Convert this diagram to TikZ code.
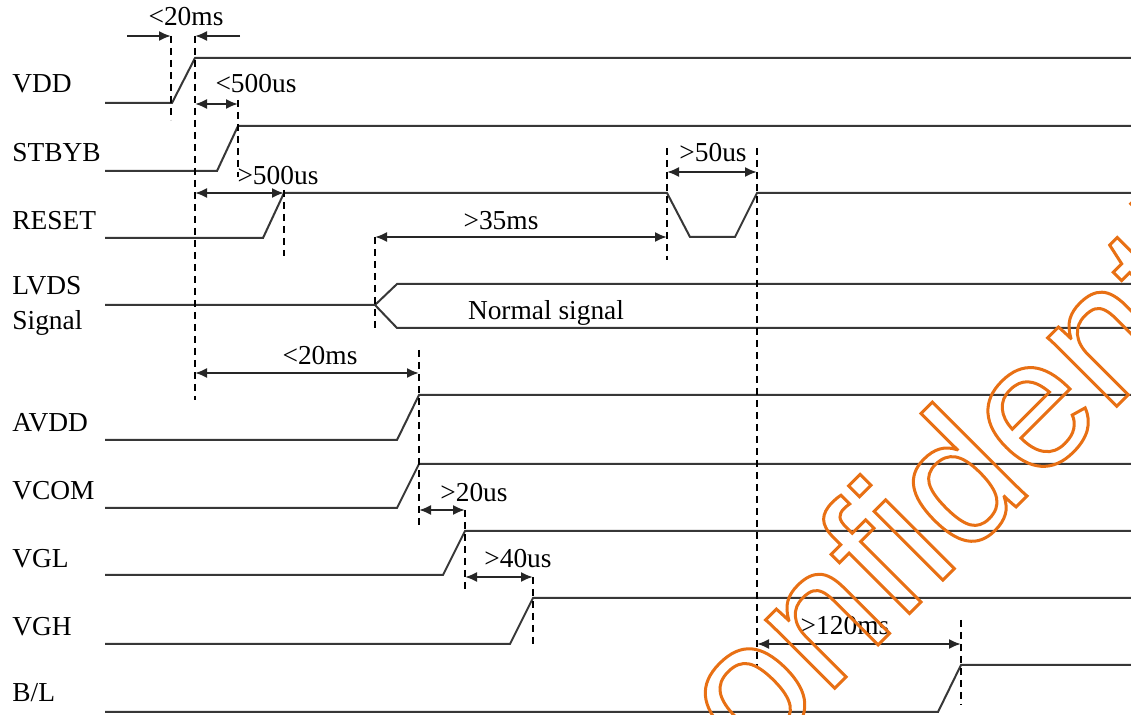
\documentclass[tikz,border=0pt]{standalone}
\usepackage{fontspec}
\setmainfont{Liberation Serif}
\newfontfamily\stampfont{Liberation Sans}
\usepackage{xcolor}
\usetikzlibrary{arrows.meta,positioning,calc}
\definecolor{wavegray}{RGB}{55,55,55}
\definecolor{stamporange}{RGB}{232,112,20}

\begin{document}
\begin{tikzpicture}[x=0.5pt,y=-0.5pt,>={Latex[length=6pt,width=5pt]},
  wave/.style={line width=1pt,wavegray},
  guide/.style={line width=0.7pt,dash pattern=on 3.5pt off 2.5pt,black},
  dim/.style={line width=1pt,black!85},
  sig/.style={anchor=base west,inner sep=0pt,font=\fontsize{13.7}{15}\selectfont},
  tmark/.style={anchor=base,inner sep=0pt,font=\fontsize{13.7}{15}\selectfont}]
  \useasboundingbox (0,0) rectangle (1131,715);

  % signal names
  \foreach \nm/\yy/\txt in {vdd/93/VDD,stbyb/162/STBYB,reset/230/RESET,lvds/295/LVDS,
      lvdsb/330/Signal,avdd/432/AVDD,vcom/500/VCOM,vgl/568/VGL,vgh/636/VGH,bl/702/{B/L}}
     \node[sig] (\nm) at (12,\yy) {\txt};

  % plain rising edges: low, high, edge start, edge end
  \foreach \lo/\hi/\xa/\xb in {103/58/172/195,171/126/217/238,440/395/397/419,
      508/464/397/419,575/531/443/465,644/598/510/533,712/665/938/961}
     \draw[wave] (105,\lo) -- (\xa,\lo) -- (\xb,\hi) -- (1131,\hi);
  \draw[wave] (105,238) -- (263,238) -- (284,193) -- (667,193) -- (690,237)
     -- (735,237) -- (757,193) -- (1131,193);
  \draw[wave] (105,305) -- (375,305) -- (397,284) -- (1131,284);
  \draw[wave] (375,305) -- (397,328) -- (1131,328);
  \node[tmark] (normal) at (546,320) {Normal signal};

  % dashed timing guides
  \foreach \n/\x/\ya/\yb in {g1/171/36/120,g2/195/36/400,g3/238/100/177,g4/284/190/256,
      g5/375/237/330,g6/419/350/528,g7/465/510/593,g8/533/577/645,
      g9/667/148/260,g10/757/148/667,g11/961/620/705}
     {\coordinate (\n) at (\x,\ya); \draw[guide] (\n) -- (\x,\yb);}

  % timing arrows
  \coordinate (vddl) at (127,36);
  \coordinate (vddr) at (240,36);
  \draw[dim,->] (vddl) -- (g1);
  \draw[dim,->] (vddr) -- (g2);
  \foreach \a/\b/\yy in {g2/g3/104,g2/g4/193,g9/g10/172,g5/g9/237,g2/g6/373,
      g6/g7/510,g7/g8/577,g10/g11/644}
     \draw[dim,<->] (\a |- 0,\yy) -- (\b |- 0,\yy);
  \foreach \nm/\x/\yy/\txt in {t1/186/26/{<20ms},t2/256/93/{<500us},t3/278/185/{>500us},
      t4/713/162/{>50us},t5/501/230/{>35ms},t6/320/365/{<20ms},t7/474/502/{>20us},
      t8/518/568/{>40us},t9/845/635/{>120ms}}
     \node[tmark] (\nm) at (\x,\yy) {\txt};

  % watermark
  \node[rotate=45,anchor=base west,inner sep=0pt,text=stamporange,
     font=\stampfont\fontsize{92}{92}\selectfont] (stamp) at (688,835)
     {\special{pdf:literal direct 1 Tr 1.5 w}confidential\special{pdf:literal direct 0 Tr}};
\end{tikzpicture}
\end{document}
